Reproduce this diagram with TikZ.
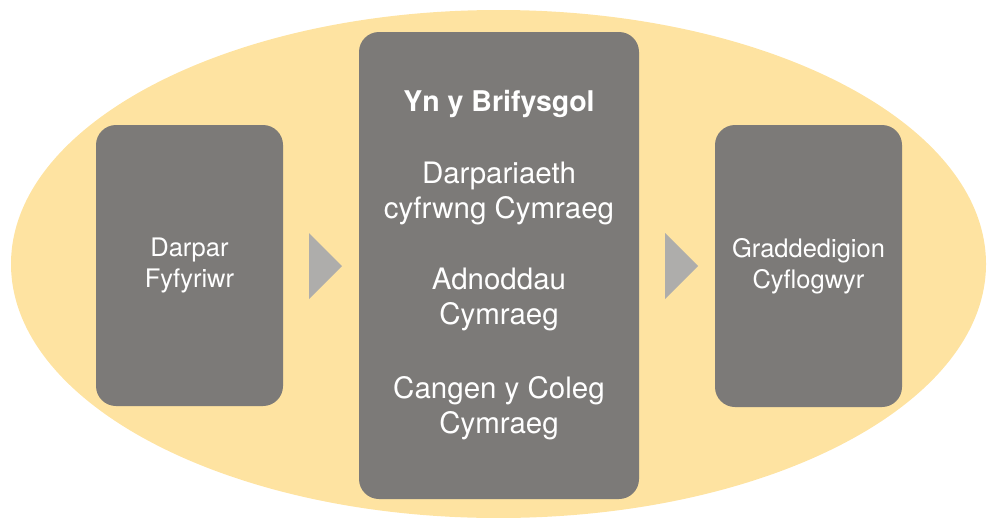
\documentclass[tikz,border=0pt]{standalone}
\usepackage{fontspec}
\setmainfont{TeX Gyre Heros}
\usepackage{xcolor}
\definecolor{oval}{HTML}{FEE3A1}
\definecolor{boxgrey}{HTML}{7C7A78}
\definecolor{tipgrey}{HTML}{AEADAB}

\begin{document}
\begin{tikzpicture}[x=1pt,y=-1pt,
    stage/.style={rectangle,rounded corners=20pt,fill=boxgrey,text=white,inner sep=0pt,align=center},
    small/.style={font=\fontsize{25.5}{31}\selectfont},
    big/.style={font=\fontsize{29.5}{35}\selectfont}]
            \useasboundingbox (0,0) rectangle (987,517);
            \fill[oval] (498.5,264) ellipse [x radius=487.5, y radius=254];

            \node (pre) at (189.5,265.5) [stage,small,minimum width=187pt,minimum height=281pt] {Darpar\\Fyfyriwr};
            \node (uni) at (499,265.5) [stage,big,minimum width=280pt,minimum height=467pt] {\textbf{\fontsize{28.5}{35}\selectfont Yn y Brifysgol}\\[37pt]Darpariaeth\\cyfrwng Cymraeg\\[36pt]Adnoddau\\Cymraeg\\[39pt]Cangen y Coleg\\Cymraeg};
            \node (post) at (808.5,266) [stage,small,minimum width=187pt,minimum height=282pt] {Graddedigion\\Cyflogwyr};

            \fill[tipgrey] (309,233) -- (342,266) -- (309,299) -- cycle;
            \fill[tipgrey] (665,233) -- (698,266) -- (665,299) -- cycle;

        \end{tikzpicture}
\end{document}
